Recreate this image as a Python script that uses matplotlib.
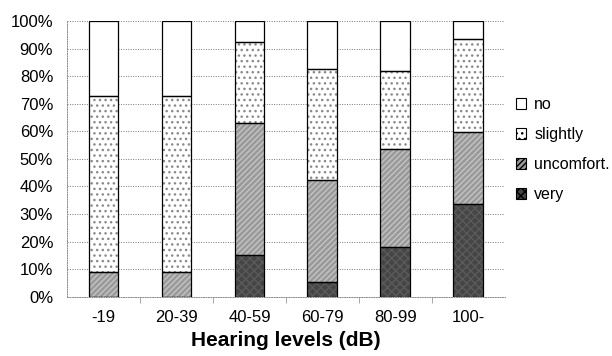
import matplotlib
matplotlib.use("Agg")
import matplotlib.pyplot as plt
import numpy as np
from matplotlib.patches import Patch

plt.rcParams['font.family'] = ['Liberation Sans', 'DejaVu Sans']

categories = ["-19", "20-39", "40-59", "60-79", "80-99", "100-"]
# share of responses per hearing level group (percent)
very = [0.0, 0.0, 15.0, 5.2, 17.9, 33.5]
uncomfort = [9.1, 9.1, 48.0, 37.2, 35.6, 26.4]
slightly = [63.6, 63.6, 29.6, 40.2, 28.6, 33.6]
no = [27.3, 27.3, 7.4, 17.4, 17.9, 6.5]

series = [
    ("very", very, "#454545", "#5a5a5a", "xxxx"),
    ("uncomfort.", uncomfort, "#9a9a9a", "#c4c4c4", "//////"),
    ("slightly", slightly, "white", "#8a8a8a", "..."),
    ("no", no, "white", "white", ""),
]

fig = plt.figure(figsize=(6.12, 3.56), dpi=100)
ax = fig.add_axes([0.1095, 0.167, 0.7155, 0.773])

x = np.arange(len(categories))
width = 0.41
bottom = np.zeros(len(categories))
handles = {}
for name, vals, fc, hc, hatch in series:
    vals = np.array(vals)
    ax.bar(x, vals, width, bottom=bottom, facecolor=fc, edgecolor=hc,
           hatch=hatch, linewidth=0, zorder=2)
    ax.bar(x, vals, width, bottom=bottom, fill=False, edgecolor="black",
           linewidth=0.9, zorder=3)
    handles[name] = Patch(facecolor=fc, edgecolor="black", hatch=hatch,
                          linewidth=0.8, label=name)
    bottom += vals

ax.set_xlim(-0.5, len(categories) - 0.5)
ax.set_ylim(0, 100)
ax.set_yticks(np.arange(0, 101, 10))
ax.set_yticklabels([f"{v}%" for v in range(0, 101, 10)], fontsize=12)
ax.set_xticks(x)
ax.set_xticklabels(categories, fontsize=12)
ax.set_xticks(np.arange(0.5, len(categories) - 0.5, 1), minor=True)
ax.tick_params(axis="x", which="major", length=0, pad=10)
ax.tick_params(axis="x", which="minor", length=4, color="#999999")
ax.tick_params(axis="y", length=0, pad=10)

ax.yaxis.grid(True, linestyle=(0, (1, 1.5)), color="#777777", linewidth=0.7, zorder=0)
for s in ["top", "right"]:
    ax.spines[s].set_visible(False)
for s in ["left", "bottom"]:
    ax.spines[s].set_linestyle((0, (1, 1.5)))
    ax.spines[s].set_color("#888888")
    ax.spines[s].set_linewidth(0.7)

ax.set_xlabel("Hearing levels (dB)", fontsize=15, fontweight="bold", labelpad=4)

order = ["no", "slightly", "uncomfort.", "very"]
fig.legend([handles[n] for n in order], order, loc="upper left",
           bbox_to_anchor=(0.843, 0.728), frameon=False, fontsize=11.5,
           handlelength=0.65, handleheight=0.65, handletextpad=0.5,
           labelspacing=0.95, borderpad=0, borderaxespad=0)

fig.savefig("out.png", dpi=100)
